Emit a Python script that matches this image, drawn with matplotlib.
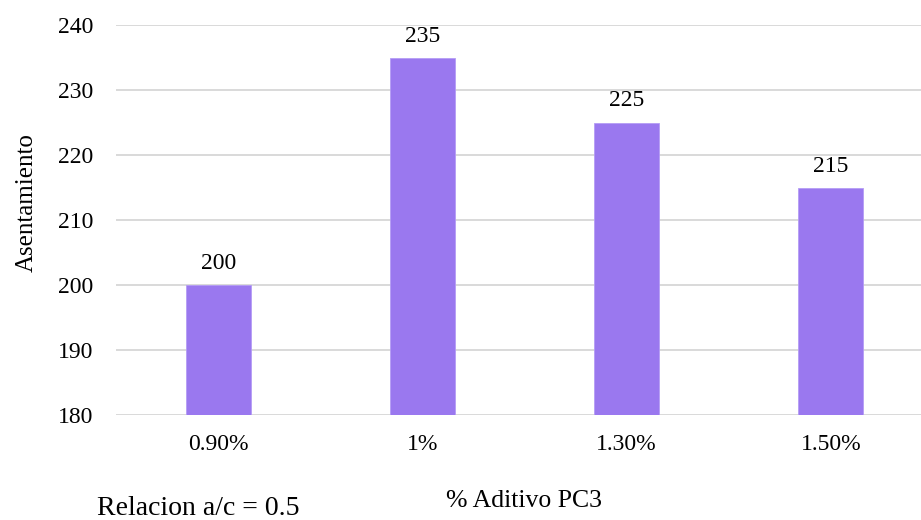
import matplotlib
matplotlib.use("Agg")
import matplotlib.pyplot as plt

categories = ["0.90%", "1%", "1.30%", "1.50%"]
values = [200, 235, 225, 215]
y_ticks = [180, 190, 200, 210, 220, 230, 240]

plt.rcParams["font.family"] = ["Liberation Serif", "DejaVu Serif"]

W, H = 921, 520
fig = plt.figure(figsize=(W / 100, H / 100), dpi=100)

left, right = 116, 933
top, bottom = 25, 415
ax = fig.add_axes([left / W, 1 - bottom / H, (right - left) / W, (bottom - top) / H])

x = range(len(categories))
ax.bar(x, [v - 180 for v in values], bottom=180, width=0.318,
       color="#9A78EF", edgecolor="#B59CF5", linewidth=0.6, zorder=3)

ax.set_ylim(180, 240)
ax.set_xlim(-0.5, len(categories) - 0.5)
ax.set_yticks(y_ticks)
ax.set_xticks(list(x))
ax.set_xticklabels(categories)
ax.yaxis.grid(True, color="#D9D9D9", linewidth=1.4, zorder=0)
ax.set_axisbelow(True)
for s in ax.spines.values():
    s.set_visible(False)
ax.tick_params(axis="both", length=0, labelsize=17, colors="#000000")
ax.tick_params(axis="y", pad=16.5)
ax.tick_params(axis="x", pad=14)

for xi, v in zip(x, values):
    ax.annotate(f"{v}", (xi, v), xytext=(0, 16), textcoords="offset pixels",
                ha="center", va="baseline", fontsize=17)

fig.text(33 / W, 1 - 203 / H, "Asentamiento", rotation=90, ha="center",
         va="baseline", fontsize=18, rotation_mode="anchor")
fig.text(524 / W, 1 - 507 / H, "% Aditivo PC3", ha="center", va="baseline",
         fontsize=18.5)
fig.text(97 / W, 1 - 515 / H, "Relacion a/c = 0.5", ha="left", va="baseline",
         fontsize=20)

fig.savefig("out.png", dpi=100)
